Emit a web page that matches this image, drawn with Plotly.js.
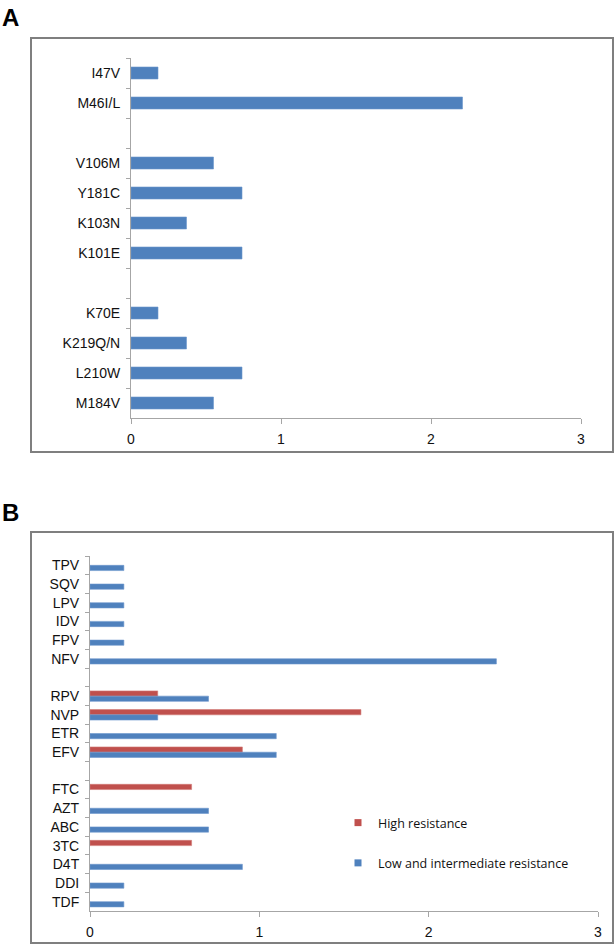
<!DOCTYPE html>
<html><head><meta charset="utf-8">
<script src="https://cdn.plot.ly/plotly-3.0.1.min.js"></script>
<style>html,body{margin:0;padding:0;background:#fff;}#chart{width:615px;height:945px;}</style>
</head><body><div id="chart"></div>
<script>
// Panel A: mutations (top to bottom), gaps use blank labels
const mutationsA = ['I47V','M46I/L','\u00a0','V106M','Y181C','K103N','K101E','\u00a0\u00a0','K70E','K219Q/N','L210W','M184V'];
const valuesA    = [0.18, 2.21, null, 0.55, 0.74, 0.37, 0.74, null, 0.18, 0.37, 0.74, 0.55];

// Panel B: drugs (top to bottom)
const drugsB = ['TPV','SQV','LPV','IDV','FPV','NFV','\u00a0','RPV','NVP','ETR','EFV','\u00a0\u00a0','FTC','AZT','ABC','3TC','D4T','DDI','TDF'];
const highB  = [null,null,null,null,null,null,null,0.4,1.6,null,0.9,null,0.6,null,null,0.6,null,null,null];
const lowB   = [0.2,0.2,0.2,0.2,0.2,2.4,null,0.7,0.4,1.1,1.1,null,null,0.7,0.7,null,0.9,0.2,0.2];
const seriesNames = ['High resistance','Low and intermediate resistance'];
const xTicks = [0,1,2,3];

const W=615,H=945;
const px=v=>v/W, py=v=>1-v/H;
const BLUE='#4F81BD', RED='#C0504D', AX='#a6a6a6';
const tickFont={family:'Liberation Sans, Arial, sans-serif',size:14,color:'#111'};

const traces=[
 {type:'bar',orientation:'h',x:valuesA,y:mutationsA,xaxis:'x',yaxis:'y',width:0.4,
  marker:{color:BLUE,line:{color:'#6d97cc',width:0.6}},showlegend:false,hoverinfo:'x+y'},
 {type:'bar',orientation:'h',x:highB,y:drugsB,xaxis:'x2',yaxis:'y2',name:seriesNames[0],showlegend:false,
  width:0.28,offset:-0.28,marker:{color:RED,line:{color:'#d27a77',width:0.6}}},
 {type:'bar',orientation:'h',x:lowB,y:drugsB,xaxis:'x2',yaxis:'y2',name:seriesNames[1],showlegend:false,
  width:0.28,offset:0,marker:{color:BLUE,line:{color:'#6d97cc',width:0.6}}},
 // legend keys (small squares, as in the reference)
 {type:'scatter',mode:'markers',x:[null],y:[null],xaxis:'x2',yaxis:'y2',name:seriesNames[0],legendgroup:'h',
  marker:{symbol:'square',size:7,color:RED}},
 {type:'scatter',mode:'markers',x:[null],y:[null],xaxis:'x2',yaxis:'y2',name:seriesNames[1],legendgroup:'l',
  marker:{symbol:'square',size:7,color:BLUE}}
];

function xax(dom,anchor){return {domain:dom,anchor:anchor,range:[0,3],tickvals:xTicks,ticktext:xTicks.map(String),
  showgrid:false,zeroline:false,showline:true,linecolor:AX,linewidth:1,ticks:'outside',ticklen:5,tickcolor:AX,
  tickfont:tickFont,ticklabelstandoff:3,fixedrange:true};}
function yax(dom,anchor,cats){return {domain:dom,anchor:anchor,type:'category',categoryorder:'array',categoryarray:cats,
  autorange:'reversed',showgrid:false,zeroline:false,showline:true,linecolor:AX,linewidth:1,ticks:'outside',ticklen:4,
  tickcolor:AX,tickson:'boundaries',tickfont:tickFont,ticklabelstandoff:7,fixedrange:true};}

const layout={
 width:W,height:H,margin:{l:0,r:0,t:0,b:0},paper_bgcolor:'#fff',plot_bgcolor:'rgba(0,0,0,0)',
 barmode:'overlay',
 xaxis:xax([px(131),px(581)],'y'),
 yaxis:yax([py(418),py(58)],'x',mutationsA),
 xaxis2:xax([px(90),px(598)],'y2'),
 yaxis2:yax([py(911),py(556)],'x2',drugsB),
 legend:{x:px(338),y:py(808),xanchor:'left',yanchor:'top',bgcolor:'rgba(0,0,0,0)',
   traceorder:'grouped',tracegroupgap:21,font:{family:'Open Sans, Noto Sans, sans-serif',size:12.5,color:'#111'}},
 shapes:[
  {type:'rect',xref:'paper',yref:'paper',x0:px(31),x1:px(613),y0:py(452),y1:py(38),line:{color:'#7f7f7f',width:2}},
  {type:'rect',xref:'paper',yref:'paper',x0:px(31),x1:px(613),y0:py(943),y1:py(532),line:{color:'#7f7f7f',width:2}}
 ],
 annotations:[
  {text:'<b>A</b>',xref:'paper',yref:'paper',x:px(0),y:py(2),xanchor:'left',yanchor:'top',showarrow:false,
   font:{family:'Liberation Sans, Arial, sans-serif',size:24,color:'#000'}},
  {text:'<b>B</b>',xref:'paper',yref:'paper',x:px(0),y:py(497),xanchor:'left',yanchor:'top',showarrow:false,
   font:{family:'Liberation Sans, Arial, sans-serif',size:24,color:'#000'}}
 ]
};
Plotly.newPlot('chart',traces,layout,{displayModeBar:false,staticPlot:true});
</script></body></html>
